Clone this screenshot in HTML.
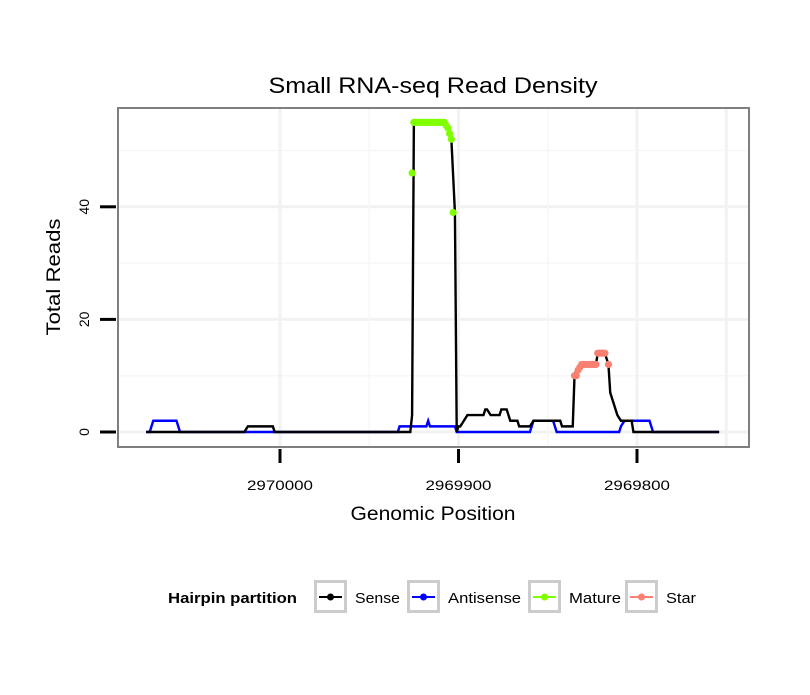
<!DOCTYPE html>
<html><head><meta charset="utf-8"><style>
body{margin:0;background:#fff;font-family:"Liberation Sans",sans-serif;}
svg text{font-family:"Liberation Sans",sans-serif;}
</style></head><body>
<svg id="chart" width="810" height="690" xmlns="http://www.w3.org/2000/svg">
<rect x="0" y="0" width="810" height="690" fill="#fff"/>
<text x="433" y="93" text-anchor="middle" font-size="22" textLength="329" lengthAdjust="spacingAndGlyphs">Small RNA-seq Read Density</text>
<g id="grid"></g>
<g id="series"></g>
<rect x="118" y="108" width="631" height="339" fill="none" stroke="#7f7f7f" stroke-width="2"/>
<g id="axes"></g>
<text x="433" y="520" text-anchor="middle" font-size="19" textLength="165" lengthAdjust="spacingAndGlyphs">Genomic Position</text>
<text transform="translate(60,277) rotate(-90)" text-anchor="middle" font-size="19" textLength="117" lengthAdjust="spacingAndGlyphs">Total Reads</text>
<g id="legend"></g>
</svg>
<script>
const senseX=[2970075,2970020,2970018,2970004,2970003,2969927,2969926,2969925,2969908,2969907,2969906,2969905,2969904,2969902,2969901,2969900,2969899,2969897,2969895,2969886,2969885,2969884,2969882,2969877,2969876,2969873,2969871,2969867,2969866,2969860,2969858,2969843,2969842,2969836,2969835,2969834,2969831,2969823,2969822,2969818,2969817,2969816,2969815,2969813,2969812,2969811,2969809,2969803,2969802,2969754];
const senseY=[0,0,1,1,0,0,3,55,55,54.5,54,53,52,39,0,1,1,2,3,3,4,4,3,3,4,4,2,2,1,1,2,2,1,1,10,11,12,12,14,14,13,12,7,5,4,3,2,2,0,0];
const antiX=[2970075,2970073,2970071,2970058,2970056,2969934,2969933,2969918,2969917,2969916,2969902,2969901,2969860,2969858,2969847,2969845,2969810,2969809,2969807,2969793,2969791,2969754];
const antiY=[0,0,2,2,0,0,1,1,2,1,1,0,0,2,2,0,0,1,2,2,0,0];
const matureX=[2969926,2969925,2969924,2969923,2969922,2969921,2969920,2969919,2969918,2969917,2969916,2969915,2969914,2969913,2969912,2969911,2969910,2969909,2969908,2969907,2969906,2969905,2969904,2969903];
const matureY=[46,55,55,55,55,55,55,55,55,55,55,55,55,55,55,55,55,55,55,54.5,54,53,52,39];
const starX=[2969835,2969834,2969833,2969832,2969831,2969830,2969829,2969828,2969827,2969826,2969825,2969824,2969823,2969822,2969821,2969820,2969819,2969818,2969816];
const starY=[10,10,11,11.5,12,12,12,12,12,12,12,12,12,14,14,14,14,14,12];
const xTicks=[2970000,2969900,2969800];
const yTicks=[0,20,40];
const legendLabels=["Sense","Antisense","Mature","Star"];
const legendColors=["#000000","#0000ff","#7fff00","#fa8072"];

const NS="http://www.w3.org/2000/svg";
function xs(p){return 280+(2970000-p)*1.785;}
function ys(v){return 432-v*5.63;}
function mk(tag,attrs,parent){const e=document.createElementNS(NS,tag);for(const k in attrs)e.setAttribute(k,attrs[k]);parent.appendChild(e);return e;}
const grid=document.getElementById('grid'),series=document.getElementById('series'),axes=document.getElementById('axes'),legend=document.getElementById('legend');
[10,30,50].forEach(v=>{const l=mk('line',{x1:118,x2:749,y1:ys(v),y2:ys(v),stroke:'#f7f7f7','stroke-width':1.5},grid);

});
yTicks.forEach(v=>{const l=mk('line',{x1:118,x2:749,y1:ys(v),y2:ys(v),stroke:'#f2f2f2','stroke-width':3},grid);

});
[2969950,2969850].forEach(p=>{const l=mk('line',{x1:xs(p),x2:xs(p),y1:108,y2:447,stroke:'#f7f7f7','stroke-width':1.5},grid);

});
xTicks.concat([2970100,2969750]).forEach(p=>{const x=xs(p);if(x<118||x>749)return;const l=mk('line',{x1:x,x2:x,y1:108,y2:447,stroke:'#f2f2f2','stroke-width':3},grid);

});
xTicks.forEach(p=>{const t=mk('line',{x1:xs(p),x2:xs(p),y1:449,y2:463,stroke:'#000','stroke-width':3},axes);


const tx=mk('text',{x:xs(p),y:490,'text-anchor':'middle','font-size':14,textLength:66,lengthAdjust:'spacingAndGlyphs'},axes);tx.textContent=p;

});
yTicks.forEach(v=>{const t=mk('line',{x1:100,x2:116,y1:ys(v),y2:ys(v),stroke:'#000','stroke-width':3},axes);


const tx=mk('text',{transform:`translate(89,${ys(v)}) rotate(-90)`,'text-anchor':'middle','font-size':14},axes);tx.textContent=v;

});
function line(X,Y,c,name){const pts=X.map((p,i)=>xs(p)+','+ys(Y[i])).join(' ');const l=mk('polyline',{points:pts,fill:'none',stroke:c,'stroke-width':2.4},series);

}
line(antiX,antiY,'#0000ff','antisense-line');
line(senseX,senseY,'#000000','sense-line');
function pts(X,Y,c,name){X.forEach((p,i)=>{const d=mk('circle',{cx:xs(p),cy:ys(Y[i]),r:3.6,fill:c},series);

});}
pts(matureX,matureY,'#7fff00','mature-point');
pts(starX,starY,'#fa8072','star-point');
const lt=mk('text',{x:168,y:603,'font-size':15,'font-weight':'bold',textLength:129,lengthAdjust:'spacingAndGlyphs'},legend);lt.textContent='Hairpin partition';


const boxX=[314,407,528,625];
const labW=[45,73,52,30];
legendLabels.forEach((lab,i)=>{const g=mk('g',{},legend);


mk('rect',{x:boxX[i]+1.5,y:581.5,width:30,height:30,fill:'#fff',stroke:'#cccccc','stroke-width':3},g);
mk('line',{x1:boxX[i]+5,x2:boxX[i]+28,y1:597,y2:597,stroke:legendColors[i],'stroke-width':2},g);
mk('circle',{cx:boxX[i]+16.5,cy:597,r:3.5,fill:legendColors[i]},g);
const t=mk('text',{x:boxX[i]+41,y:603,'font-size':15,textLength:labW[i],lengthAdjust:'spacingAndGlyphs'},g);t.textContent=lab;});
</script>
</body></html>
